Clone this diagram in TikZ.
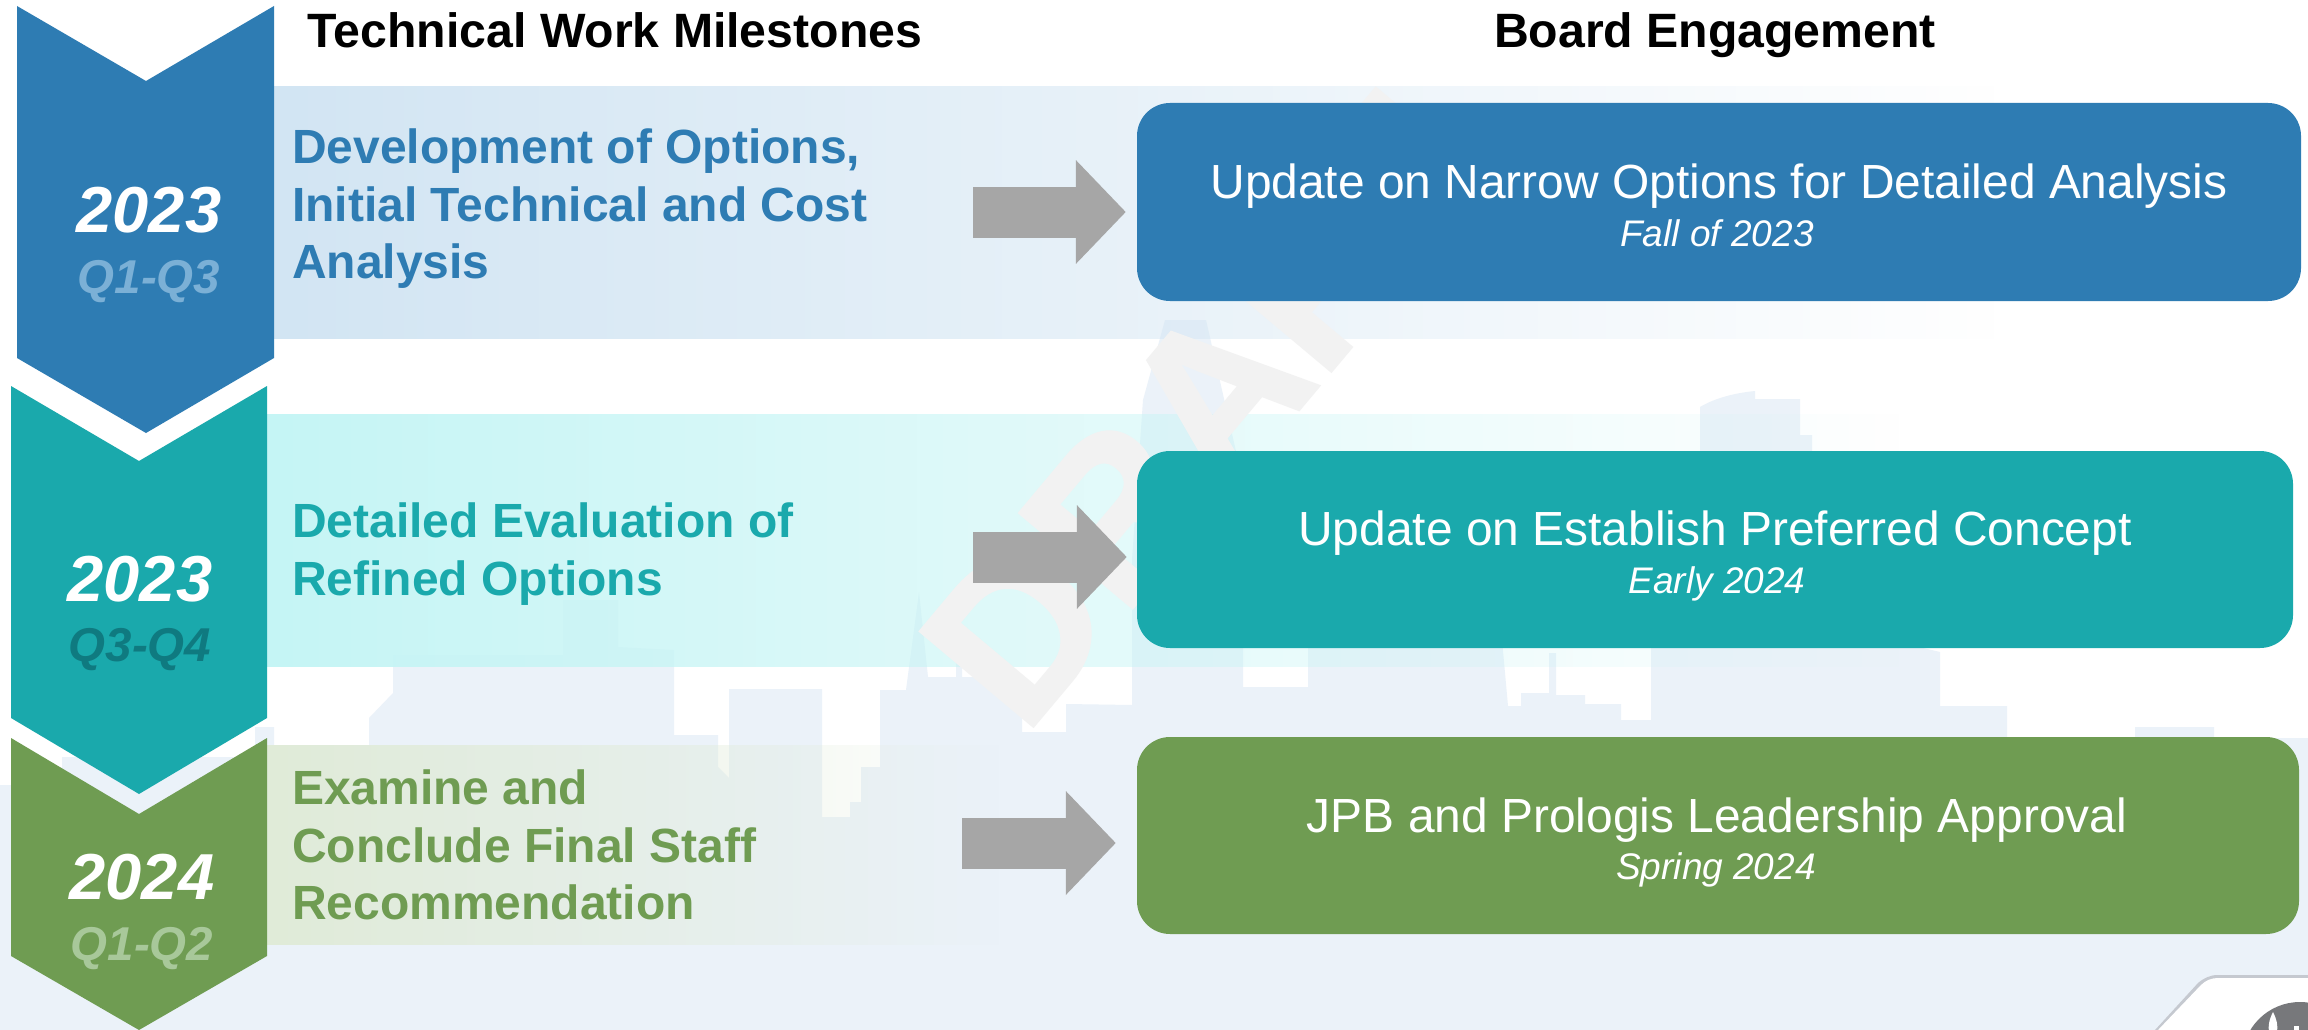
\documentclass[tikz,border=0pt]{standalone}
\usepackage{fontspec}
\setmainfont{Liberation Sans}
\usetikzlibrary{fadings,arrows.meta}
\definecolor{cblue}{HTML}{2E7CB3}
\definecolor{cteal}{HTML}{1AA9AC}
\definecolor{cgreen}{HTML}{6F9C52}
\definecolor{pale}{HTML}{EBF2F9}
\definecolor{arrowgrey}{HTML}{A6A6A6}
\definecolor{wmark}{HTML}{F2F2F2}
\definecolor{bandblue}{HTML}{D2E5F3}
\definecolor{bandteal}{HTML}{C5F5F5}
\definecolor{bandgreen}{HTML}{E0EBD8}
\definecolor{qblue}{HTML}{7BB0D6}
\definecolor{qteal}{HTML}{0F7A80}
\definecolor{qgreen}{HTML}{A8C89A}
\definecolor{logogrey}{HTML}{77787B}
\definecolor{tabshadow}{HTML}{C5C9D0}
\newcommand{\fsz}[1]{\fontsize{#1pt}{#1pt}\selectfont}
\newfontfamily\wmfont[FakeBold=1.5]{Liberation Sans Bold}
\tikzfading[name=bandfade, left color=transparent!0, middle color=transparent!75, right color=transparent!100]
\tikzset{
  x=1pt, y=-1pt,
  band/.style={path fading=bandfade, fit fading=true},
  boxshape/.style={rectangle, rounded corners=33pt, inner sep=0pt, minimum height=198pt},
  boxtitle/.style={anchor=base, inner sep=0pt, text=white, font=\fsz{47.9}},
  boxsub/.style={anchor=base, inner sep=0pt, text=white, font=\fsz{37}\itshape},
  heading/.style={anchor=base, inner sep=0pt, text=black, font=\fsz{48.2}\bfseries},
  year/.style={anchor=base, inner sep=0pt, text=white, font=\fsz{65}\bfseries\itshape},
  quarter/.style={anchor=base, inner sep=0pt, font=\fsz{47.5}\bfseries\itshape},
  milestone/.style={anchor=west, inner sep=0pt, align=left, font=\fontsize{48pt}{57.5pt}\selectfont\bfseries},
  bigarrow/.style={draw=arrowgrey, line width=51pt, -{Triangle[length=50pt,width=101pt,fill=arrowgrey]}},
}
\begin{document}
\begin{tikzpicture}
\useasboundingbox (0,0) rectangle (2308,1030);
\fill[white] (0,0) rectangle (2308,1030);
% skyline
\fill[pale] (0,1030) -- (0,785) -- (62,785) -- (62,757) -- (255,757) -- (255,727) -- (274,727) -- (274,745)
  -- (369,745) -- (369,718) -- (393,693) -- (393,655) -- (563,655) -- (563,600) -- (618,600) -- (618,647) -- (674,650)
  -- (674,735) -- (718,735) -- (718,767) -- (729,778) -- (729,689) -- (822,689) -- (822,817) -- (850,817)
  -- (850,802) -- (861,802) -- (861,767) -- (880,767) -- (880,690) -- (906,690) -- (919,592) -- (928,677)
  -- (956,677) -- (956,650) -- (962,650) -- (962,677) -- (1000,677) -- (1000,700) -- (1022,700) -- (1022,732)
  -- (1066,732) -- (1066,704) -- (1132,705) -- (1132,560) -- (1143,400) -- (1165,320) -- (1206,320) -- (1238,460)
  -- (1243,648) -- (1243,687) -- (1308,687) -- (1308,648) -- (1502,640) -- (1508,706) -- (1521,706) -- (1521,693)
  -- (1549,693) -- (1549,653) -- (1556,653) -- (1556,695) -- (1585,695) -- (1585,704) -- (1621,704) -- (1621,720)
  -- (1651,720) -- (1651,640) -- (1700,640) -- (1700,407) .. controls (1715,398) and (1735,393) .. (1755,391)
  -- (1755,399) -- (1800,399) -- (1800,435) -- (1812,435) -- (1812,640) -- (1923,648) -- (1940,652) -- (1940,706)
  -- (2007,706) -- (2007,745) -- (2135,745) -- (2135,727) -- (2214,727) -- (2214,738) -- (2308,738) -- (2308,1030) -- cycle;
% bands
\fill[bandblue, band] (274,86) rectangle (2000,339);
\fill[bandteal, band] (267,414) rectangle (1900,667);
\fill[bandgreen, band] (267,745) rectangle (1000,945);
% watermark
\node[anchor=base west, inner sep=0pt, rotate=50, text=wmark, font=\fsz{214}\wmfont] (draft) at (1024,737) {DRAFT};
% logo tab
\fill[tabshadow] (2155,1030) -- (2198,983) .. controls (2204,978) and (2210,975) .. (2218,975) -- (2308,975) -- (2308,1030) -- cycle;
\fill[white] (2158,1030) -- (2201,985) .. controls (2206,980) and (2212,978) .. (2218,978) -- (2308,978) -- (2308,1030) -- cycle;
\begin{scope}
\clip (2158,978) rectangle (2308,1030);
\fill[logogrey] (2300,1060) circle[radius=58];
\fill[white] (2273,1012) .. controls (2277,1020) and (2278,1026) .. (2277,1032) -- (2269,1032) .. controls (2268,1026) and (2269,1020) .. (2273,1012) -- cycle;
\fill[white] (2294,1026) rectangle (2299,1030);
\end{scope}
% chevrons
\fill[cblue] (17,6) -- (146,81) -- (274,6) -- (274,358) -- (146,433) -- (17,358) -- cycle;
\fill[cteal] (11,386) -- (139,461) -- (267,386) -- (267,718) -- (139,794) -- (11,718) -- cycle;
\fill[cgreen] (11,738) -- (139,814) -- (267,738) -- (267,956) -- (139,1030) -- (11,956) -- cycle;
% boxes
\node[boxshape, fill=cblue, minimum width=1164pt] (b1) at (1719,202) {};
\node[boxshape, fill=cteal, minimum width=1156pt, minimum height=197pt] (b2) at (1715,549.5) {};
\node[boxshape, fill=cgreen, minimum width=1162pt, minimum height=197pt] (b3) at (1718,835.5) {};
% arrows
\coordinate (a1) at (973,212);
\coordinate (a2) at (973,557);
\coordinate (a3) at (962,843);
\draw[bigarrow, shorten >=11pt] (a1) -- (a1 -| b1.west);
\draw[bigarrow, shorten >=10pt] (a2) -- (a2 -| b2.west);
\draw[bigarrow, shorten >=21pt] (a3) -- (a3 -| b3.west);
% headings
\node[heading] (h1) at (615,48) {Technical Work Milestones};
\node[heading] (h2) at (1715,48) {Board Engagement};
% chevron labels
\node[year] (y1) at (149,232) {2023};
\node[quarter, text=qblue] (q1) at (149,293) {Q1-Q3};
\node[year] (y2) at (140,601) {2023};
\node[quarter, text=qteal] (q2) at (140,661) {Q3-Q4};
\node[year] (y3) at (142,899) {2024};
\node[quarter, text=qgreen] (q3) at (142,960) {Q1-Q2};
% milestones
\node[milestone, text=cblue] (m1) at (292,209) {Development of Options,\\Initial Technical and Cost\\Analysis};
\node[milestone, text=cteal] (m2) at (292,554) {Detailed Evaluation of\\Refined Options};
\node[milestone, text=cgreen] (m3) at (292,845) {Examine and\\Conclude Final Staff\\Recommendation};
% box labels
\node[boxtitle] (t1) at (1719,198) {Update on Narrow Options for Detailed Analysis};
\node[boxsub] (s1) at (1717,246) {Fall of 2023};
\node[boxtitle] (t2) at (1715,545) {Update on Establish Preferred Concept};
\node[boxsub] (s2) at (1717,593) {Early 2024};
\node[boxtitle] (t3) at (1717,832) {JPB and Prologis Leadership Approval};
\node[boxsub] (s3) at (1716,879) {Spring 2024};
\end{tikzpicture}
\end{document}
